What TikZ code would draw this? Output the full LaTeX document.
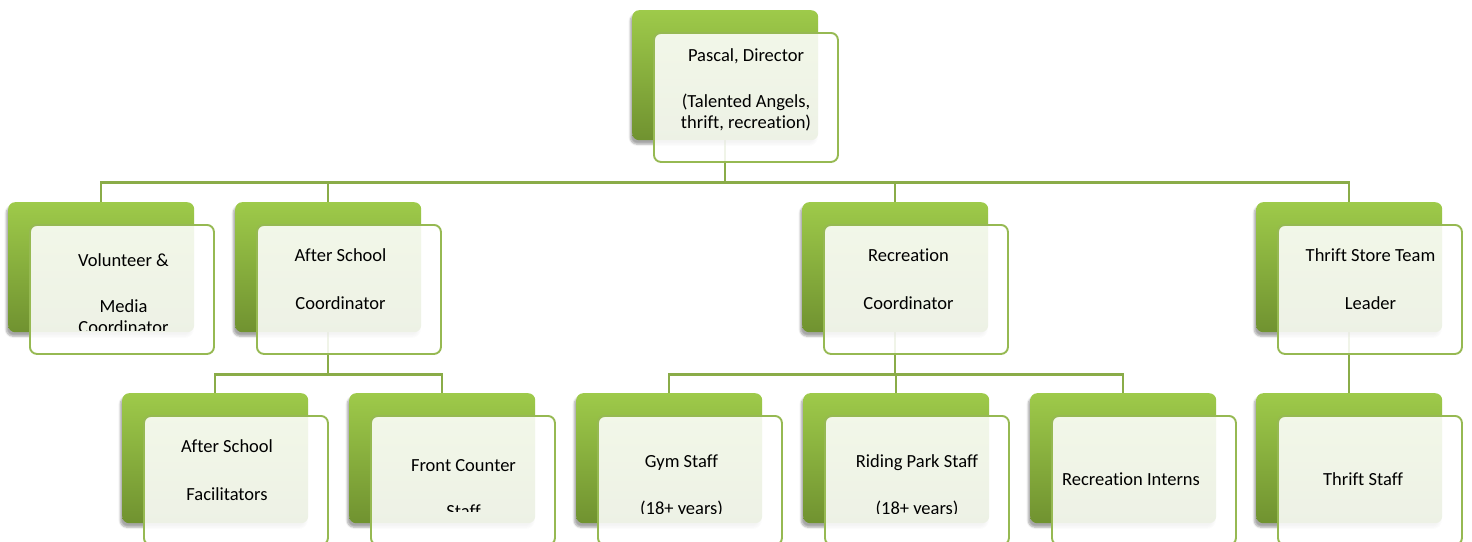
\documentclass[tikz,border=0pt]{standalone}
\usepackage{fontspec}
\setmainfont{Carlito}[Ligatures=NoCommon]
\usetikzlibrary{shadows.blur}
\definecolor{gtop}{RGB}{158,202,74}
\definecolor{gbot}{RGB}{112,146,48}
\definecolor{edgecol}{RGB}{150,185,82}
\definecolor{conncol}{RGB}{138,172,72}
\pgfdeclarelayer{bg}
\pgfsetlayers{bg,main}
\tikzset{
 greenbox/.style={rectangle, rounded corners=7pt, minimum width=186pt, minimum height=130pt, inner sep=0pt,
   top color=gtop, bottom color=gbot, draw=none,
   blur shadow={shadow xshift=-2pt, shadow yshift=-4pt, shadow opacity=35, shadow blur steps=6}, anchor=north west},
 frontbox/.style={rectangle, rounded corners=7pt, minimum width=184pt, minimum height=129pt, inner sep=0pt,
   draw=edgecol, line width=1.9pt, fill=white, fill opacity=0.88, anchor=north west},
 lbl/.style={align=center, inner sep=0pt, anchor=north, font=\fontsize{18.5}{21}\selectfont},
 connector/.style={draw=conncol, line width=2.2pt},
}
\newcommand{\orgbox}[3]{%
  \node[greenbox] (#1-g) at (#2,-#3) {};
  \node[frontbox] (#1-f) at (#2+21,-#3-22) {};}
\newcommand{\orgtext}[5]{%
  \begin{scope}
    \clip (#2-130,-#3+40) rectangle (#2+130,-#4);
    \node[lbl] (#1-t) at (#2,-#3+10) {\rule{0pt}{16pt}#5};
  \end{scope}}
\begin{document}
\begin{tikzpicture}[x=1pt,y=1pt]
\useasboundingbox (0,0) rectangle (1472,-541);
\clip (0,0) rectangle (1472,-541);
% boxes
\orgbox{p}{632}{10}
\orgbox{v}{8}{202}
\orgbox{a}{235}{202}
\orgbox{r}{802}{202}
\orgbox{t}{1256}{202}
\orgbox{af}{122}{393}
\orgbox{fc}{349}{393}
\orgbox{gy}{576}{393}
\orgbox{rp}{803}{393}
\orgbox{ri}{1030}{393}
\orgbox{ts}{1256}{393}
% connectors
\begin{pgfonlayer}{bg}
\draw[connector] (p-g.south) -- ++(0,-42) -| (v-g.north);
\draw[connector] (p-g.south) -- ++(0,-42) -| (a-g.north);
\draw[connector] (p-g.south) -- ++(0,-42) -| (r-g.north);
\draw[connector] (p-g.south) -- ++(0,-42) -| (t-g.north);
\draw[connector] (a-g.south) -- ++(0,-42) -| (af-g.north);
\draw[connector] (a-g.south) -- ++(0,-42) -| (fc-g.north);
\draw[connector] (r-g.south) -- ++(0,-42) -| (gy-g.north);
\draw[connector] (r-g.south) -- ++(0,-42) -| (rp-g.north);
\draw[connector] (r-g.south) -- ++(0,-42) -| (ri-g.north);
\draw[connector] (t-g.south) -- (ts-g.north);
\end{pgfonlayer}
% texts
\orgtext{p}{746}{55}{150}{Pascal, Director\\[25pt](Talented Angels,\\thrift, recreation)}
\orgtext{v}{123.5}{260}{330}{Volunteer \&\\[25pt]Media\\Coordinator}
\orgtext{a}{340.5}{255}{332}{After School\\[27pt]Coordinator}
\orgtext{r}{908.5}{255}{332}{Recreation\\[27pt]Coordinator}
\orgtext{t}{1370.5}{255}{332}{Thrift Store Team\\[27pt]Leader}
\orgtext{af}{227}{446}{513}{After School\\[27pt]Facilitators}
\orgtext{fc}{463.5}{465}{511}{Front Counter\\[25pt]Staff}
\orgtext{gy}{681.5}{461}{513}{Gym Staff\\[26pt](18+ years)}
\orgtext{rp}{917}{461}{513}{Riding Park Staff\\[26pt](18+ years)}
\orgtext{ri}{1131}{479}{530}{Recreation Interns}
\orgtext{ts}{1363}{479}{530}{Thrift Staff}
\end{tikzpicture}
\end{document}
